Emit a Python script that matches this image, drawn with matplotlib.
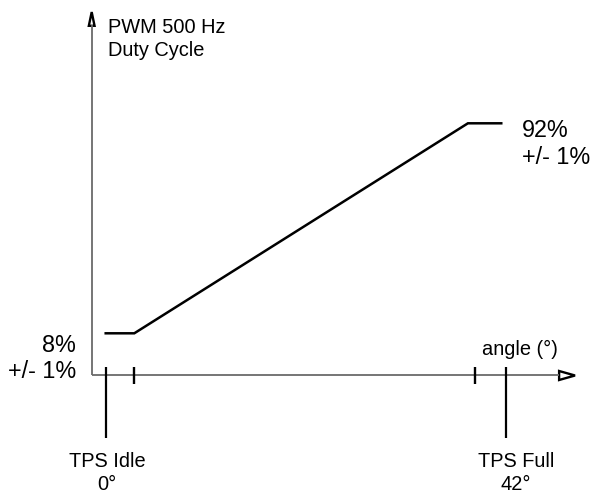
import matplotlib
matplotlib.use("Agg")
import matplotlib.pyplot as plt
from matplotlib.patches import Polygon

plt.rcParams['font.family'] = ['Liberation Sans', 'DejaVu Sans']

# Data (angle in degrees, duty cycle in %)
curve_angle = [0, 3, 38, 41.5]
curve_duty = [8, 8, 92, 92]
tick_angles = [3, 38.75]
marker_angles = [0, 42]
marker_labels = ["TPS Idle\n0°", "TPS Full\n42°"]
low_labels = ["8%", "+/- 1%"]
high_labels = ["92%", "+/- 1%"]
y_title = ["PWM 500 Hz", "Duty Cycle"]
x_title = "angle (°)"

fig = plt.figure(figsize=(5.96, 4.93), dpi=100)
ax = fig.add_axes([0, 0, 1, 1])
ax.set_xlim(-11.09, 51.44)
ax.set_ylim(-55.88, 141.32)
ax.axis('off')

axis_col = '#6a6a6a'
x0, y0 = -1.47, -8.88
x_tip, y_tip = 49.24, 136.5

# axes lines
ax.plot([x0, 47.6], [y0, y0], color=axis_col, lw=1.3, solid_capstyle='butt')
ax.plot([x0, x0], [y0, 131.5], color=axis_col, lw=1.3, solid_capstyle='butt')
# arrow heads (open triangles)
ax.add_patch(Polygon([[x_tip, y0], [47.57, y0 + 1.8], [47.57, y0 - 1.8]], closed=True,
                     fc='white', ec='black', lw=1.7, joinstyle='miter'))
ax.add_patch(Polygon([[x0, y_tip], [x0 - 0.3, 131.0], [x0 + 0.3, 131.0]], closed=True,
                     fc='white', ec='black', lw=1.7, joinstyle='miter'))

# curve
ax.plot(curve_angle, curve_duty, color='black', lw=1.8, solid_joinstyle='miter')

# ticks
for a in tick_angles:
    ax.plot([a, a], [-5.48, -12.28], color='black', lw=1.7, solid_capstyle='butt')
# marker lines
for a in marker_angles:
    ax.plot([a, a], [-5.48, -33.88], color='black', lw=1.6, solid_capstyle='butt')

# texts
fs_s = 14.4
fs_l = 16.8
ax.text(0.21, 128.3, y_title[0], fontsize=fs_s, ha='left', va='baseline')
ax.text(0.21, 118.9, y_title[1], fontsize=fs_s, ha='left', va='baseline')
ax.text(-3.12, 0.64, low_labels[0], fontsize=fs_l, ha='right', va='baseline')
ax.text(-3.12, -9.68, low_labels[1], fontsize=fs_l, ha='right', va='baseline')
ax.text(43.65, 86.5, high_labels[0], fontsize=fs_l, ha='left', va='baseline')
ax.text(43.65, 75.9, high_labels[1], fontsize=fs_l, ha='left', va='baseline')
ax.text(43.42, -0.68, x_title, fontsize=fs_s, ha='center', va='baseline')
label_x = [0.17, 43.03]
for lx, lab in zip(label_x, marker_labels):
    l1, l2 = lab.split("\n")
    ax.text(lx, -45.36, l1, fontsize=fs_s, ha='center', va='baseline')
    ax.text(lx, -54.68, l2, fontsize=fs_s, ha='center', va='baseline')

fig.savefig('out.png', dpi=100)
